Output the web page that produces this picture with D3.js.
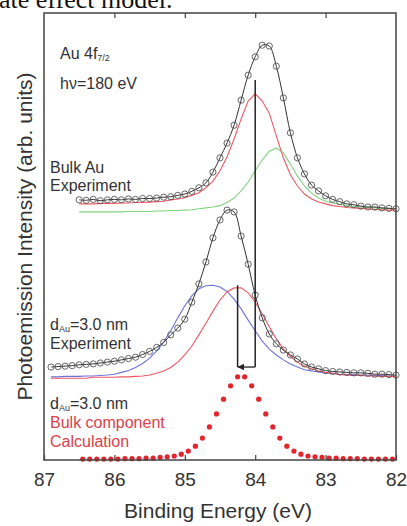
<!DOCTYPE html>
<html>
<head>
<meta charset="utf-8">
<script src="https://cdn.jsdelivr.net/npm/d3@7"></script>
<style>
  body { margin: 0; background: #fff; }
  svg { display: block; font-family: "Liberation Sans", Arial, sans-serif; }
</style>
</head>
<body>
<svg id="chart" width="407" height="526"></svg>
<script>
// Binding-energy grids (eV)
const energyBulk = [86.5,86.4,86.3,86.2,86.1,86.0,85.9,85.8,85.7,85.6,85.5,85.4,85.3,85.2,85.1,85.0,84.9,84.8,84.7,84.6,84.5,84.4,84.3,84.2,84.1,84.0,83.9,83.8,83.7,83.6,83.5,83.4,83.3,83.2,83.1,83.0,82.9,82.8,82.7,82.6,82.5,82.4,82.3,82.2,82.1,82.0];
const energyFilm = [86.9,86.8,86.7,86.6,86.5,86.4,86.3,86.2,86.1,86.0,85.9,85.8,85.7,85.6,85.5,85.4,85.3,85.2,85.1,85.0,84.9,84.8,84.7,84.6,84.5,84.4,84.3,84.2,84.1,84.0,83.9,83.8,83.7,83.6,83.5,83.4,83.3,83.2,83.1,83.0,82.9,82.8,82.7,82.6,82.5,82.4,82.3,82.2,82.1,82.0];
const energyCalc = [86.45,86.35,86.25,86.15,86.05,85.95,85.85,85.75,85.65,85.55,85.45,85.35,85.25,85.15,85.05,84.95,84.85,84.75,84.65,84.55,84.45,84.35,84.25,84.15,84.05,83.95,83.85,83.75,83.65,83.55,83.45,83.35,83.25,83.15,83.05,82.95,82.85,82.75,82.65,82.55,82.45,82.35,82.25,82.15,82.05];

// Bulk Au: measured spectrum and its two fitted components (offset, arb. units)
const bulkExp     = [5.82,5.81,5.83,5.80,5.82,5.83,5.82,5.84,5.83,5.85,5.85,5.86,5.88,5.89,5.92,5.95,6.01,6.09,6.20,6.44,6.76,7.09,7.49,8.05,8.61,9.02,9.28,9.26,8.81,8.10,7.32,6.76,6.40,6.15,6.02,5.91,5.83,5.78,5.73,5.71,5.68,5.66,5.66,5.64,5.63,5.62];
const bulkFitMain = [5.73,5.73,5.73,5.74,5.74,5.74,5.75,5.75,5.76,5.76,5.77,5.78,5.79,5.82,5.84,5.87,5.92,5.98,6.09,6.24,6.47,6.78,7.18,7.63,8.03,8.19,8.03,7.76,7.25,6.76,6.38,6.13,5.95,5.84,5.77,5.73,5.69,5.67,5.65,5.64,5.63,5.62,5.60,5.60,5.59,5.59];
const bulkFitSurf = [5.55,5.55,5.55,5.55,5.55,5.55,5.55,5.56,5.56,5.56,5.56,5.57,5.57,5.58,5.58,5.59,5.60,5.62,5.64,5.66,5.69,5.76,5.86,6.02,6.22,6.47,6.71,6.91,6.98,6.87,6.62,6.35,6.13,5.97,5.86,5.79,5.75,5.72,5.69,5.67,5.66,5.65,5.64,5.63,5.63,5.62];

// 3.0 nm film: measured spectrum and its two fitted components
const filmExp     = [2.08,2.09,2.10,2.11,2.13,2.14,2.15,2.17,2.19,2.21,2.24,2.27,2.30,2.36,2.43,2.52,2.63,2.80,2.95,3.15,3.53,3.94,4.43,4.97,5.37,5.59,5.55,5.01,4.38,3.69,3.18,2.82,2.60,2.46,2.35,2.26,2.15,2.08,2.04,2.00,1.98,1.97,1.96,1.95,1.95,1.94,1.92,1.92,1.91,1.90];
const filmFitSurf = [1.86,1.86,1.87,1.87,1.87,1.88,1.88,1.89,1.90,1.92,1.96,2.00,2.07,2.16,2.28,2.44,2.64,2.89,3.18,3.45,3.67,3.83,3.90,3.91,3.87,3.77,3.60,3.38,3.13,2.89,2.66,2.48,2.35,2.24,2.15,2.08,2.02,1.99,1.97,1.95,1.94,1.92,1.91,1.91,1.90,1.90,1.89,1.89,1.88,1.88];
const filmFitMain = [1.83,1.83,1.83,1.83,1.83,1.83,1.85,1.85,1.85,1.85,1.86,1.86,1.87,1.88,1.90,1.94,1.99,2.07,2.19,2.35,2.55,2.80,3.06,3.33,3.58,3.76,3.85,3.85,3.74,3.53,3.27,2.98,2.71,2.48,2.32,2.19,2.10,2.04,1.99,1.96,1.94,1.91,1.90,1.89,1.89,1.88,1.88,1.87,1.87,1.87];

// Calculated bulk component for the 3.0 nm film
const calcBulk    = [0.02,0.02,0.02,0.02,0.02,0.02,0.03,0.03,0.03,0.04,0.04,0.06,0.07,0.09,0.13,0.20,0.31,0.49,0.74,1.03,1.36,1.66,1.86,1.86,1.66,1.36,1.03,0.74,0.49,0.31,0.20,0.13,0.09,0.07,0.06,0.04,0.04,0.03,0.03,0.03,0.02,0.02,0.02,0.02,0.02];

// Peak-position markers: bulk line, film bulk-component line, and the shift arrow
const markerLines = [
  { energy: 84.0,  top: 8.50, bottom: 2.08 },
  { energy: 84.25, top: 3.91, bottom: 2.08 }
];
const shiftArrow = { from: 84.0, to: 84.25, level: 2.08 };

const xTicks = [87, 86, 85, 84, 83, 82];

const svg = d3.select("#chart");
const W = 407, H = 526;
const margin = { left: 44, right: 11, top: 13, bottom: 66 };
const x = d3.scaleLinear().domain([87, 82]).range([margin.left, W - margin.right]);
const y = d3.scaleLinear().domain([0, 10]).range([H - margin.bottom, margin.top]);

// running text of the page above the figure
svg.append("text")
  .attr("x", -1).attr("y", 8)
  .attr("font-family", "'Liberation Serif', 'Times New Roman', serif")
  .attr("font-size", 26).attr("fill", "#111")
  .text("ate effect model.");

const toPts = (E, V) => E.map((e, i) => [e, V[i]]);
const line = d3.line().x(d => x(d[0])).y(d => y(d[1]));
const smooth = d3.line().x(d => x(d[0])).y(d => y(d[1])).curve(d3.curveCatmullRom.alpha(0.5));

const plot = svg.append("g");

// fitted components
const comps = [
  { E: energyBulk, V: bulkFitSurf, c: "#82d282" },
  { E: energyBulk, V: bulkFitMain, c: "#ee5864" },
  { E: energyFilm, V: filmFitSurf, c: "#6d72d8" },
  { E: energyFilm, V: filmFitMain, c: "#ee5864" }
];
plot.selectAll("path.comp").data(comps).join("path")
  .attr("class", "comp")
  .attr("fill", "none")
  .attr("stroke", d => d.c)
  .attr("stroke-width", 1.1)
  .attr("d", d => line(toPts(d.E, d.V)));

// measured spectra: envelope line plus open circles
const spectra = [
  { E: energyBulk, V: bulkExp },
  { E: energyFilm, V: filmExp }
];
plot.selectAll("path.env").data(spectra).join("path")
  .attr("class", "env")
  .attr("fill", "none")
  .attr("stroke", "#333")
  .attr("stroke-width", 1)
  .attr("d", d => smooth(toPts(d.E, d.V)));

spectra.forEach(s => {
  plot.append("g").selectAll("circle").data(toPts(s.E, s.V)).join("circle")
    .attr("cx", d => x(d[0]))
    .attr("cy", d => y(d[1]))
    .attr("r", 3.1)
    .attr("fill", "none")
    .attr("stroke", "#555")
    .attr("stroke-width", 0.9);
});

// calculated bulk component: red dots
plot.append("g").selectAll("circle").data(toPts(energyCalc, calcBulk)).join("circle")
  .attr("cx", d => x(d[0]))
  .attr("cy", d => y(d[1]))
  .attr("r", 2.6)
  .attr("fill", "#e2252d");

// peak-position lines and shift arrow
svg.append("defs").append("marker")
  .attr("id", "head")
  .attr("viewBox", "0 0 10 10")
  .attr("refX", 10).attr("refY", 5)
  .attr("markerWidth", 5).attr("markerHeight", 5)
  .attr("orient", "auto")
  .append("path").attr("d", "M0,0 L10,5 L0,10 z").attr("fill", "#222");

plot.selectAll("line.mark").data(markerLines).join("line")
  .attr("class", "mark")
  .attr("x1", d => x(d.energy)).attr("x2", d => x(d.energy))
  .attr("y1", d => y(d.top)).attr("y2", d => y(d.bottom))
  .attr("stroke", "#222").attr("stroke-width", 1.5);

plot.append("line")
  .attr("x1", x(shiftArrow.from)).attr("x2", x(shiftArrow.to))
  .attr("y1", y(shiftArrow.level)).attr("y2", y(shiftArrow.level))
  .attr("stroke", "#222").attr("stroke-width", 1.3)
  .attr("marker-end", "url(#head)");

// axes: inward ticks top and bottom, labels below
const axB = svg.append("g")
  .attr("transform", `translate(0,${H - margin.bottom})`)
  .call(d3.axisBottom(x).tickValues(xTicks).tickFormat(d3.format("d"))
    .tickSizeInner(-5).tickSizeOuter(0).tickPadding(13));
axB.select(".domain").remove();
axB.selectAll(".tick line").attr("stroke", "#444").attr("stroke-width", 1.2);
axB.selectAll(".tick text").attr("font-size", 19).attr("fill", "#333")
  .attr("font-family", "'Liberation Sans', Arial, sans-serif");

const axT = svg.append("g")
  .attr("transform", `translate(0,${margin.top})`)
  .call(d3.axisTop(x).tickValues(xTicks.slice(1, -1)).tickFormat("")
    .tickSizeInner(-5).tickSizeOuter(0));
axT.select(".domain").remove();
axT.selectAll(".tick line").attr("stroke", "#444").attr("stroke-width", 1.2);

// frame
svg.append("rect")
  .attr("x", margin.left).attr("y", margin.top)
  .attr("width", W - margin.left - margin.right)
  .attr("height", H - margin.top - margin.bottom)
  .attr("fill", "none").attr("stroke", "#444").attr("stroke-width", 1.5);

// axis titles
svg.append("text")
  .attr("x", 218).attr("y", 518)
  .attr("text-anchor", "middle")
  .attr("font-size", 21).attr("fill", "#333")
  .text("Binding Energy (eV)");

svg.append("text")
  .attr("transform", `translate(32,${(margin.top + H - margin.bottom) / 2}) rotate(-90)`)
  .attr("text-anchor", "middle")
  .attr("font-size", 21).attr("fill", "#333")
  .text("Photoemission Intensity (arb. units)");

// annotations
const note = (xx, yy, parts, color) => {
  const t = svg.append("text").attr("x", xx).attr("y", yy)
    .attr("font-size", 16).attr("fill", color || "#333");
  parts.forEach(p => {
    const s = t.append("tspan").text(p.t);
    if (p.sub) s.attr("font-size", 9).attr("dy", 2);
    if (p.after) s.attr("dy", -2);
  });
};
note(60, 59, [{ t: "Au 4f" }, { t: "7/2", sub: true }]);
note(60, 89, [{ t: "hν=180 eV" }]);
note(50, 173, [{ t: "Bulk Au" }]);
note(50, 191, [{ t: "Experiment" }]);
note(50, 330, [{ t: "d" }, { t: "Au", sub: true }, { t: "=3.0 nm", after: true }]);
note(50, 349, [{ t: "Experiment" }]);
note(50, 409, [{ t: "d" }, { t: "Au", sub: true }, { t: "=3.0 nm", after: true }]);
note(50, 428, [{ t: "Bulk component" }], "#e0404a");
note(50, 447, [{ t: "Calculation" }], "#e0404a");
</script>
</body>
</html>
